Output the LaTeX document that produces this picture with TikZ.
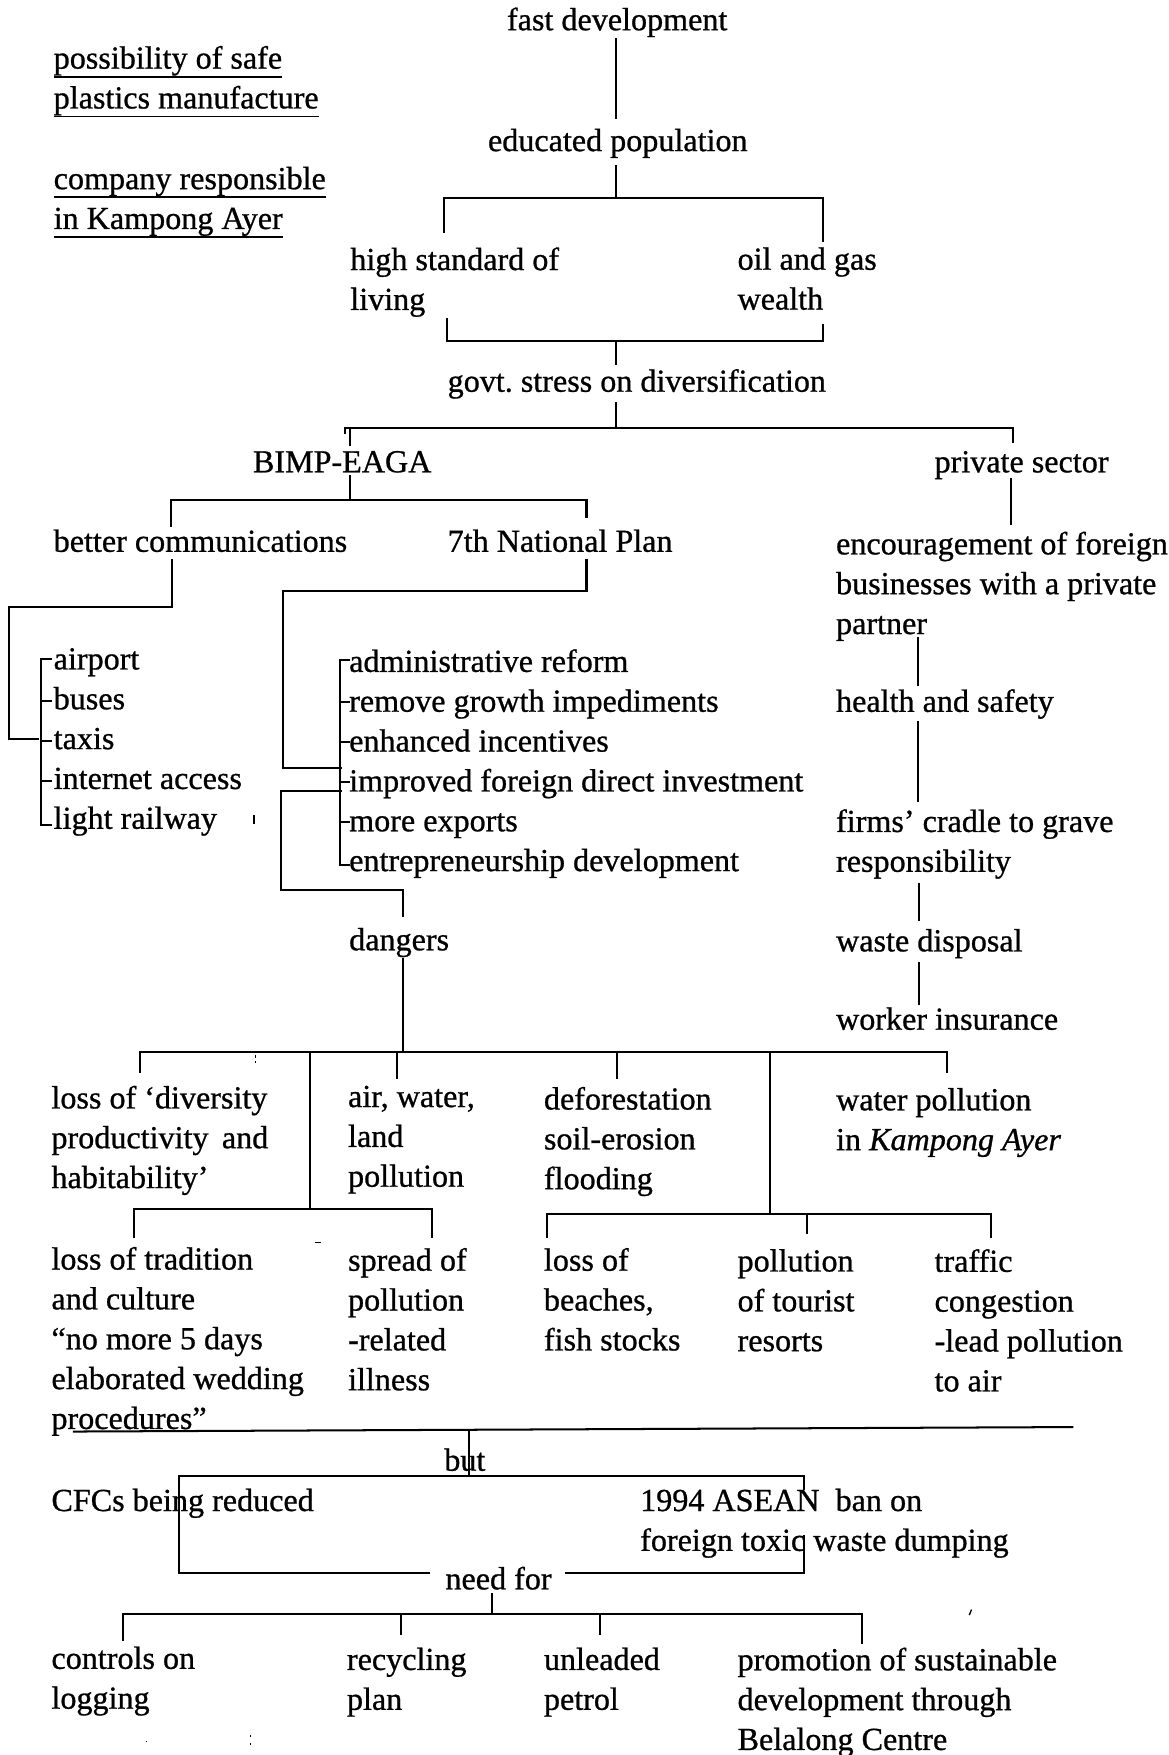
\documentclass[tikz,border=0pt]{standalone}
\usepackage{fontspec}
\setmainfont[FakeBold=0.8]{Liberation Serif}
\frenchspacing
\newsavebox\ulxbox
% underline that runs through descenders, as in typed notes
\newcommand\ulx[1]{\sbox\ulxbox{#1}\rlap{\rule[-4pt]{\wd\ulxbox}{0.75pt}}\usebox\ulxbox}
\begin{document}
\begin{tikzpicture}[x=0.5pt,y=-0.5pt,
  lbl/.style={anchor=north west, inner sep=0pt, outer sep=0pt, align=left,
    font=\fontsize{14.35}{17.8}\selectfont, execute at begin node=\strut, yshift=9.46pt},
  conn/.style={line width=0.9pt, line cap=rect},
  speck/.style={line width=0.6pt}]
\useasboundingbox (0,0) rectangle (1044,1568);

% ---------- side notes ----------
\node[lbl] (note1) at (48,60) {\ulx{possibility of safe}\\\ulx{plastics manufacture}};
\node[lbl] (note2) at (48,168) {\ulx{company responsible}\\\ulx{in Kampong Ayer}};

% ---------- text nodes ----------
\node[lbl] (fast) at (453,21) {fast development};
\node[lbl] (edu) at (436,129) {educated population};
\node[lbl] (high) at (313,240) {high standard of\\living};
\node[lbl] (oil) at (659,240) {oil and gas\\wealth};
\node[lbl] (govt) at (400,344) {govt. stress on diversification};
\node[lbl] (bimp) at (226,416) {BIMP-EAGA};
\node[lbl] (priv) at (835,416) {private sector};
\node[lbl] (comm) at (48,487) {better communications};
\node[lbl] (plan) at (400,487) {7th National Plan};
\node[lbl] (enc) at (747,494) {encouragement of foreign\\businesses with a private\\partner};
\node[lbl] (list1) at (48,598) {airport\\buses\\taxis\\internet access\\light railway};
\node[lbl] (list2) at (312,599) {administrative reform\\remove growth impediments\\enhanced incentives\\improved foreign direct investment\\more exports\\entrepreneurship development};
\node[lbl] (health) at (747,630) {health and safety};
\node[lbl] (firms) at (747,742) {firms’ cradle to grave\\responsibility};
\node[lbl] (dang) at (312,843) {dangers};
\node[lbl] (waste) at (747,844) {waste disposal};
\node[lbl] (worker) at (747,914) {worker insurance};
\node[lbl] (ldiv) at (46,989) {loss of ‘diversity\\productivity\ \,and\\habitability’};
\node[lbl] (awl) at (311,989) {air, water,\\land\\pollution};
\node[lbl] (defo) at (486,990) {deforestation\\soil-erosion\\flooding};
\node[lbl] (wpol) at (747,991) {water pollution\\in \textit{Kampong Ayer}};
\node[lbl] (ltrad) at (46,1133) {loss of tradition\\and culture\\“no more 5 days\\elaborated wedding\\procedures”};
\node[lbl] (spread) at (311,1134) {spread of\\pollution\\-related\\illness};
\node[lbl] (lbeach) at (486,1134) {loss of\\beaches,\\fish stocks};
\node[lbl] (ptour) at (659,1135) {pollution\\of tourist\\resorts};
\node[lbl] (traffic) at (835,1135) {traffic\\congestion\\-lead pollution\\to air};
\node[lbl] (but) at (397,1308) {but};
\node[lbl] (cfc) at (46,1344) {CFCs being reduced};
\node[lbl] (asean) at (572,1349) {1994 ASEAN\enspace ban on\\foreign toxic waste dumping};
\node[lbl] (need) at (398,1414) {need for};
\node[lbl] (ctrl) at (46,1490) {controls on\\logging};
\node[lbl] (recyc) at (310,1491) {recycling\\plan};
\node[lbl] (unlead) at (486,1491) {unleaded\\petrol};
\node[lbl] (promo) at (659,1491) {promotion of sustainable\\development through\\Belalong Centre};

% ---------- junction points ----------
\coordinate (fa) at (550,35);   \coordinate (fb) at (550,105);
\coordinate (ea) at (550,148);  \coordinate (eb) at (550,177);
\coordinate (k1L) at (397,177); \coordinate (k1R) at (735,177);
\coordinate (k1Ld) at (397,207); \coordinate (k1Rd) at (735,215);
\coordinate (k2Lu) at (399,285); \coordinate (k2L) at (399,305);
\coordinate (k2R) at (735,305); \coordinate (k2Ru) at (735,290);
\coordinate (k2M) at (550,305); \coordinate (ga) at (550,325);
\coordinate (gb) at (550,360);  \coordinate (gc) at (550,382);
\coordinate (sL) at (308,382);  \coordinate (sR) at (905,382);
\coordinate (sLt) at (308,387); \coordinate (sB) at (313,382); \coordinate (sBd) at (313,398);
\coordinate (sRd) at (905,395);
\coordinate (ba) at (313,425);  \coordinate (bb) at (313,447);
\coordinate (k3L) at (153,447); \coordinate (k3R) at (524,447);
\coordinate (k3Ld) at (153,470); \coordinate (k3Rd) at (524,462);
\coordinate (ca) at (154,500);  \coordinate (cb) at (154,542);
\coordinate (cc) at (8,542);    \coordinate (cd) at (8,660);  \coordinate (ce) at (34,660);
\coordinate (pa) at (524,500);  \coordinate (pb) at (524,528);
\coordinate (pc) at (253,528);  \coordinate (pd) at (253,686); \coordinate (pe) at (305,686);
\coordinate (da) at (305,707);  \coordinate (db) at (251,707);
\coordinate (dc) at (251,795);  \coordinate (dd) at (360,795); \coordinate (de) at (360,818);
\coordinate (df) at (360,857);  \coordinate (dg) at (360,940);
\coordinate (hL) at (125,940);  \coordinate (hR) at (846,940);
\coordinate (hLd) at (125,958); \coordinate (hRd) at (846,958);
\coordinate (hA) at (355,940);  \coordinate (hAd) at (355,963);
\coordinate (hD) at (551,940);  \coordinate (hDd) at (551,963);
\coordinate (v1a) at (277,940); \coordinate (v1b) at (277,1080);
\coordinate (v2a) at (688,940); \coordinate (v2b) at (688,1085);
\coordinate (k4L) at (120,1080); \coordinate (k4R) at (386,1080);
\coordinate (k4Ld) at (120,1105); \coordinate (k4Rd) at (386,1105);
\coordinate (k5L) at (489,1085); \coordinate (k5R) at (885,1085);
\coordinate (k5Ld) at (489,1105); \coordinate (k5Rd) at (885,1105);
\coordinate (k5M) at (721,1085); \coordinate (k5Md) at (721,1102);
\coordinate (rulL) at (66,1279); \coordinate (rulR) at (958,1275);
\coordinate (bt1) at (419,1279); \coordinate (bt2) at (419,1319);
\coordinate (k6L) at (160,1319); \coordinate (k6R) at (718,1319); \coordinate (k6Rd) at (718,1330);
\coordinate (k6Lb) at (160,1405); \coordinate (n1) at (383,1405);
\coordinate (n2) at (506,1405);  \coordinate (k6Rb) at (718,1405); \coordinate (k6Ru) at (718,1372);
\coordinate (na) at (440,1424);  \coordinate (nb) at (440,1442);
\coordinate (k7L) at (110,1442); \coordinate (k7R) at (770,1442);
\coordinate (k7Ld) at (110,1465); \coordinate (k7Rd) at (770,1468);
\coordinate (k7a) at (358,1442); \coordinate (k7ad) at (358,1460);
\coordinate (k7b) at (536,1442); \coordinate (k7bd) at (536,1460);
\coordinate (ra) at (903,428); \coordinate (rb) at (903,468);
\coordinate (rc) at (820,570); \coordinate (rd) at (820,612);
\coordinate (re) at (820,645); \coordinate (rf) at (820,716);
\coordinate (rg) at (821,790); \coordinate (rh) at (821,822);
\coordinate (ri) at (821,860); \coordinate (rj) at (821,897);

% ---------- connectors: main trunk ----------
\draw[conn] (fa) -- (fb);
\draw[conn] (ea) -- (eb);
\draw[conn] (k1Ld) -- (k1L) -- (k1R) -- (k1Rd);
\draw[conn] (k2Lu) -- (k2L) -- (k2R) -- (k2Ru);
\draw[conn] (k2M) -- (ga);
\draw[conn] (gb) -- (gc);
\draw[conn] (sLt) -- (sL) -- (sR) -- (sRd);
\draw[conn] (sB) -- (sBd);
\draw[conn] (ba) -- (bb);
\draw[conn] (k3Ld) -- (k3L) -- (k3R) -- (k3Rd);

% better communications to its list
\draw[conn] (ca) -- (cb) -- (cc) -- (cd) -- (ce);
\draw[conn] (46,589) -- (37,589) -- (37,737) -- (46,737);
\foreach \yy in {626.6,662,697.6} \draw[conn] (37,\yy) -- (46,\yy);

% 7th National Plan to its list
\draw[conn] (pa) -- (pb) -- (pc) -- (pd) -- (pe);
\draw[conn] (312,590) -- (304,590) -- (304,773) -- (312,773);
\foreach \yy in {627.6,663,698.8,734.4} \draw[conn] (304,\yy) -- (312,\yy);

% list to dangers
\draw[conn] (da) -- (db) -- (dc) -- (dd) -- (de);
\draw[conn] (df) -- (dg);
\draw[conn] (hLd) -- (hL) -- (hR) -- (hRd);
\draw[conn] (hA) -- (hAd);
\draw[conn] (hD) -- (hDd);
\draw[conn] (v1a) -- (v1b);
\draw[conn] (v2a) -- (v2b);
\draw[conn] (k4Ld) -- (k4L) -- (k4R) -- (k4Rd);
\draw[conn] (k5Ld) -- (k5L) -- (k5R) -- (k5Rd);
\draw[conn] (k5M) -- (k5Md);

% separator and the responses below it
\draw[conn] (rulL) -- (rulR);
\draw[conn] (bt1) -- (bt2);
\draw[conn] (k6Lb) -- (k6L) -- (k6R) -- (k6Rd);
\draw[conn] (k6Lb) -- (n1);
\draw[conn] (n2) -- (k6Rb) -- (k6Ru);
\draw[conn] (na) -- (nb);
\draw[conn] (k7Ld) -- (k7L) -- (k7R) -- (k7Rd);
\draw[conn] (k7a) -- (k7ad);
\draw[conn] (k7b) -- (k7bd);

% private sector chain
\draw[conn] (ra) -- (rb);
\draw[conn] (rc) -- (rd);
\draw[conn] (re) -- (rf);
\draw[conn] (rg) -- (rh);
\draw[conn] (ri) -- (rj);

% small stray marks on the sheet
\draw[speck] (227,728) -- (227,736);
\draw[speck] (228,943) -- (228,945) (228,948) -- (228,950);
\draw[speck] (281,1110) -- (287,1110);
\draw[speck] (130,1556) -- (131,1556);
\draw[speck] (224,1550) -- (224,1552) (224,1557) -- (224,1559);
\draw[speck] (868,1438) -- (866,1443);
\end{tikzpicture}
\end{document}
